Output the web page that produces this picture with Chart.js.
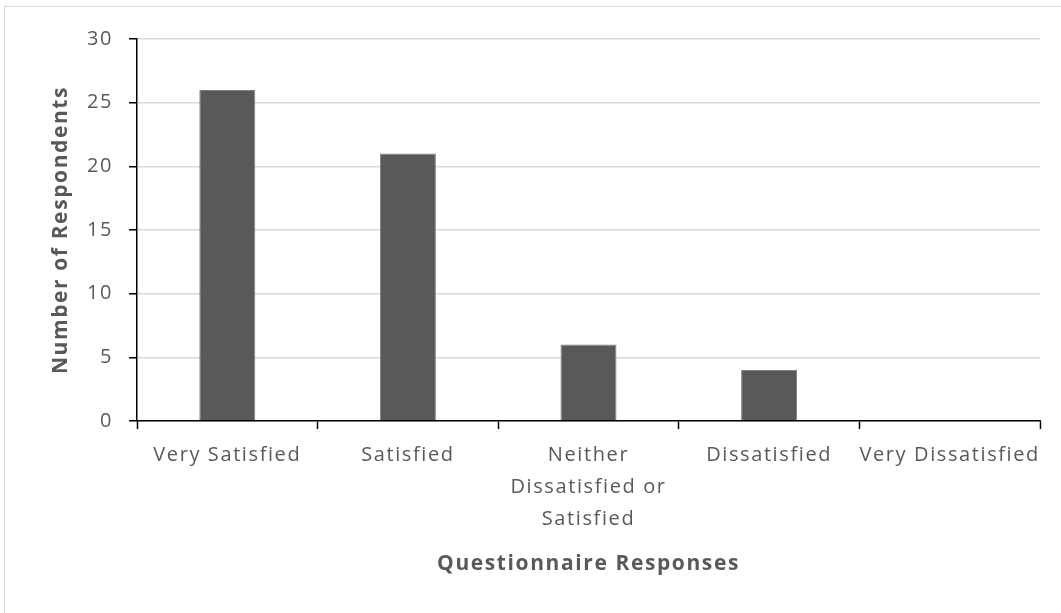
<!DOCTYPE html>
<html>
<head>
<meta charset="utf-8">
<script src="https://cdn.jsdelivr.net/npm/chart.js@4"></script>
<style>
  html, body { margin: 0; padding: 0; background: #fff; }
  #wrap { position: relative; width: 1061px; height: 613px; overflow: hidden; }
  #frame { position: absolute; left: 4px; top: 6px; width: 1100px; height: 700px; border: 1px solid #d9d9d9; }
  canvas { position: absolute; left: 0; top: 0; }
</style>
</head>
<body>
<div id="wrap">
  <div id="frame"></div>
  <canvas id="chart" width="1061" height="613"></canvas>
</div>
<script>
const categories = [
  'Very Satisfied',
  'Satisfied',
  ['Neither', 'Dissatisfied or', 'Satisfied'],
  'Dissatisfied',
  'Very Dissatisfied'
];
const respondents = [26, 21, 6, 4, 0];
const yTicks = [0, 5, 10, 15, 20, 25, 30];

const textColor = '#595959';
const fontFamily = '"Open Sans", Lato, sans-serif';

// a little extra spacing between letters, set on the context before layout and drawing
const spacing = {
  id: 'spacing',
  beforeLayout: (chart) => { chart.ctx.letterSpacing = '1.6px'; },
  beforeDraw: (chart) => { chart.ctx.letterSpacing = '1.6px'; }
};

const ctx = document.getElementById('chart').getContext('2d');
new Chart(ctx, {
  type: 'bar',
  data: {
    labels: categories,
    datasets: [{
      data: respondents,
      backgroundColor: '#595959',
      borderColor: '#7f7f7f',
      borderWidth: 1,
      categoryPercentage: 0.31,
      barPercentage: 1
    }]
  },
  plugins: [spacing],
  options: {
    responsive: false,
    animation: false,
    layout: { padding: { left: 0, top: 39, right: 21, bottom: 0 } },
    plugins: {
      legend: { display: false },
      tooltip: { enabled: false }
    },
    scales: {
      x: {
        afterFit: (scale) => { scale.height = 192; },
        grid: {
          offset: true,
          drawOnChartArea: false,
          drawTicks: true,
          tickLength: 8,
          tickColor: '#000',
          tickWidth: 1.5
        },
        border: { color: '#000', width: 1.5 },
        ticks: {
          color: textColor,
          padding: 10,
          maxRotation: 0,
          autoSkip: false,
          font: { family: fontFamily, size: 20, lineHeight: 1.6 }
        },
        title: {
          display: true,
          text: 'Questionnaire Responses',
          color: textColor,
          padding: { top: 0, bottom: 36 },
          font: { family: fontFamily, size: 21, weight: 'bold' }
        }
      },
      y: {
        min: 0,
        max: 30,
        afterFit: (scale) => { scale.width = 137; },
        afterBuildTicks: (scale) => { scale.ticks = yTicks.map(v => ({ value: v })); },
        grid: {
          color: '#d9d9d9',
          lineWidth: 1.5,
          drawTicks: true,
          tickLength: 8,
          tickColor: '#000',
          tickWidth: 1.5
        },
        border: { color: '#000', width: 1.5 },
        ticks: {
          color: textColor,
          padding: 16,
          font: { family: fontFamily, size: 20 }
        },
        title: {
          display: true,
          text: 'Number of Respondents',
          color: textColor,
          padding: { top: 48, bottom: 0 },
          font: { family: fontFamily, size: 21, weight: 'bold' }
        }
      }
    }
  }
});
</script>
</body>
</html>
